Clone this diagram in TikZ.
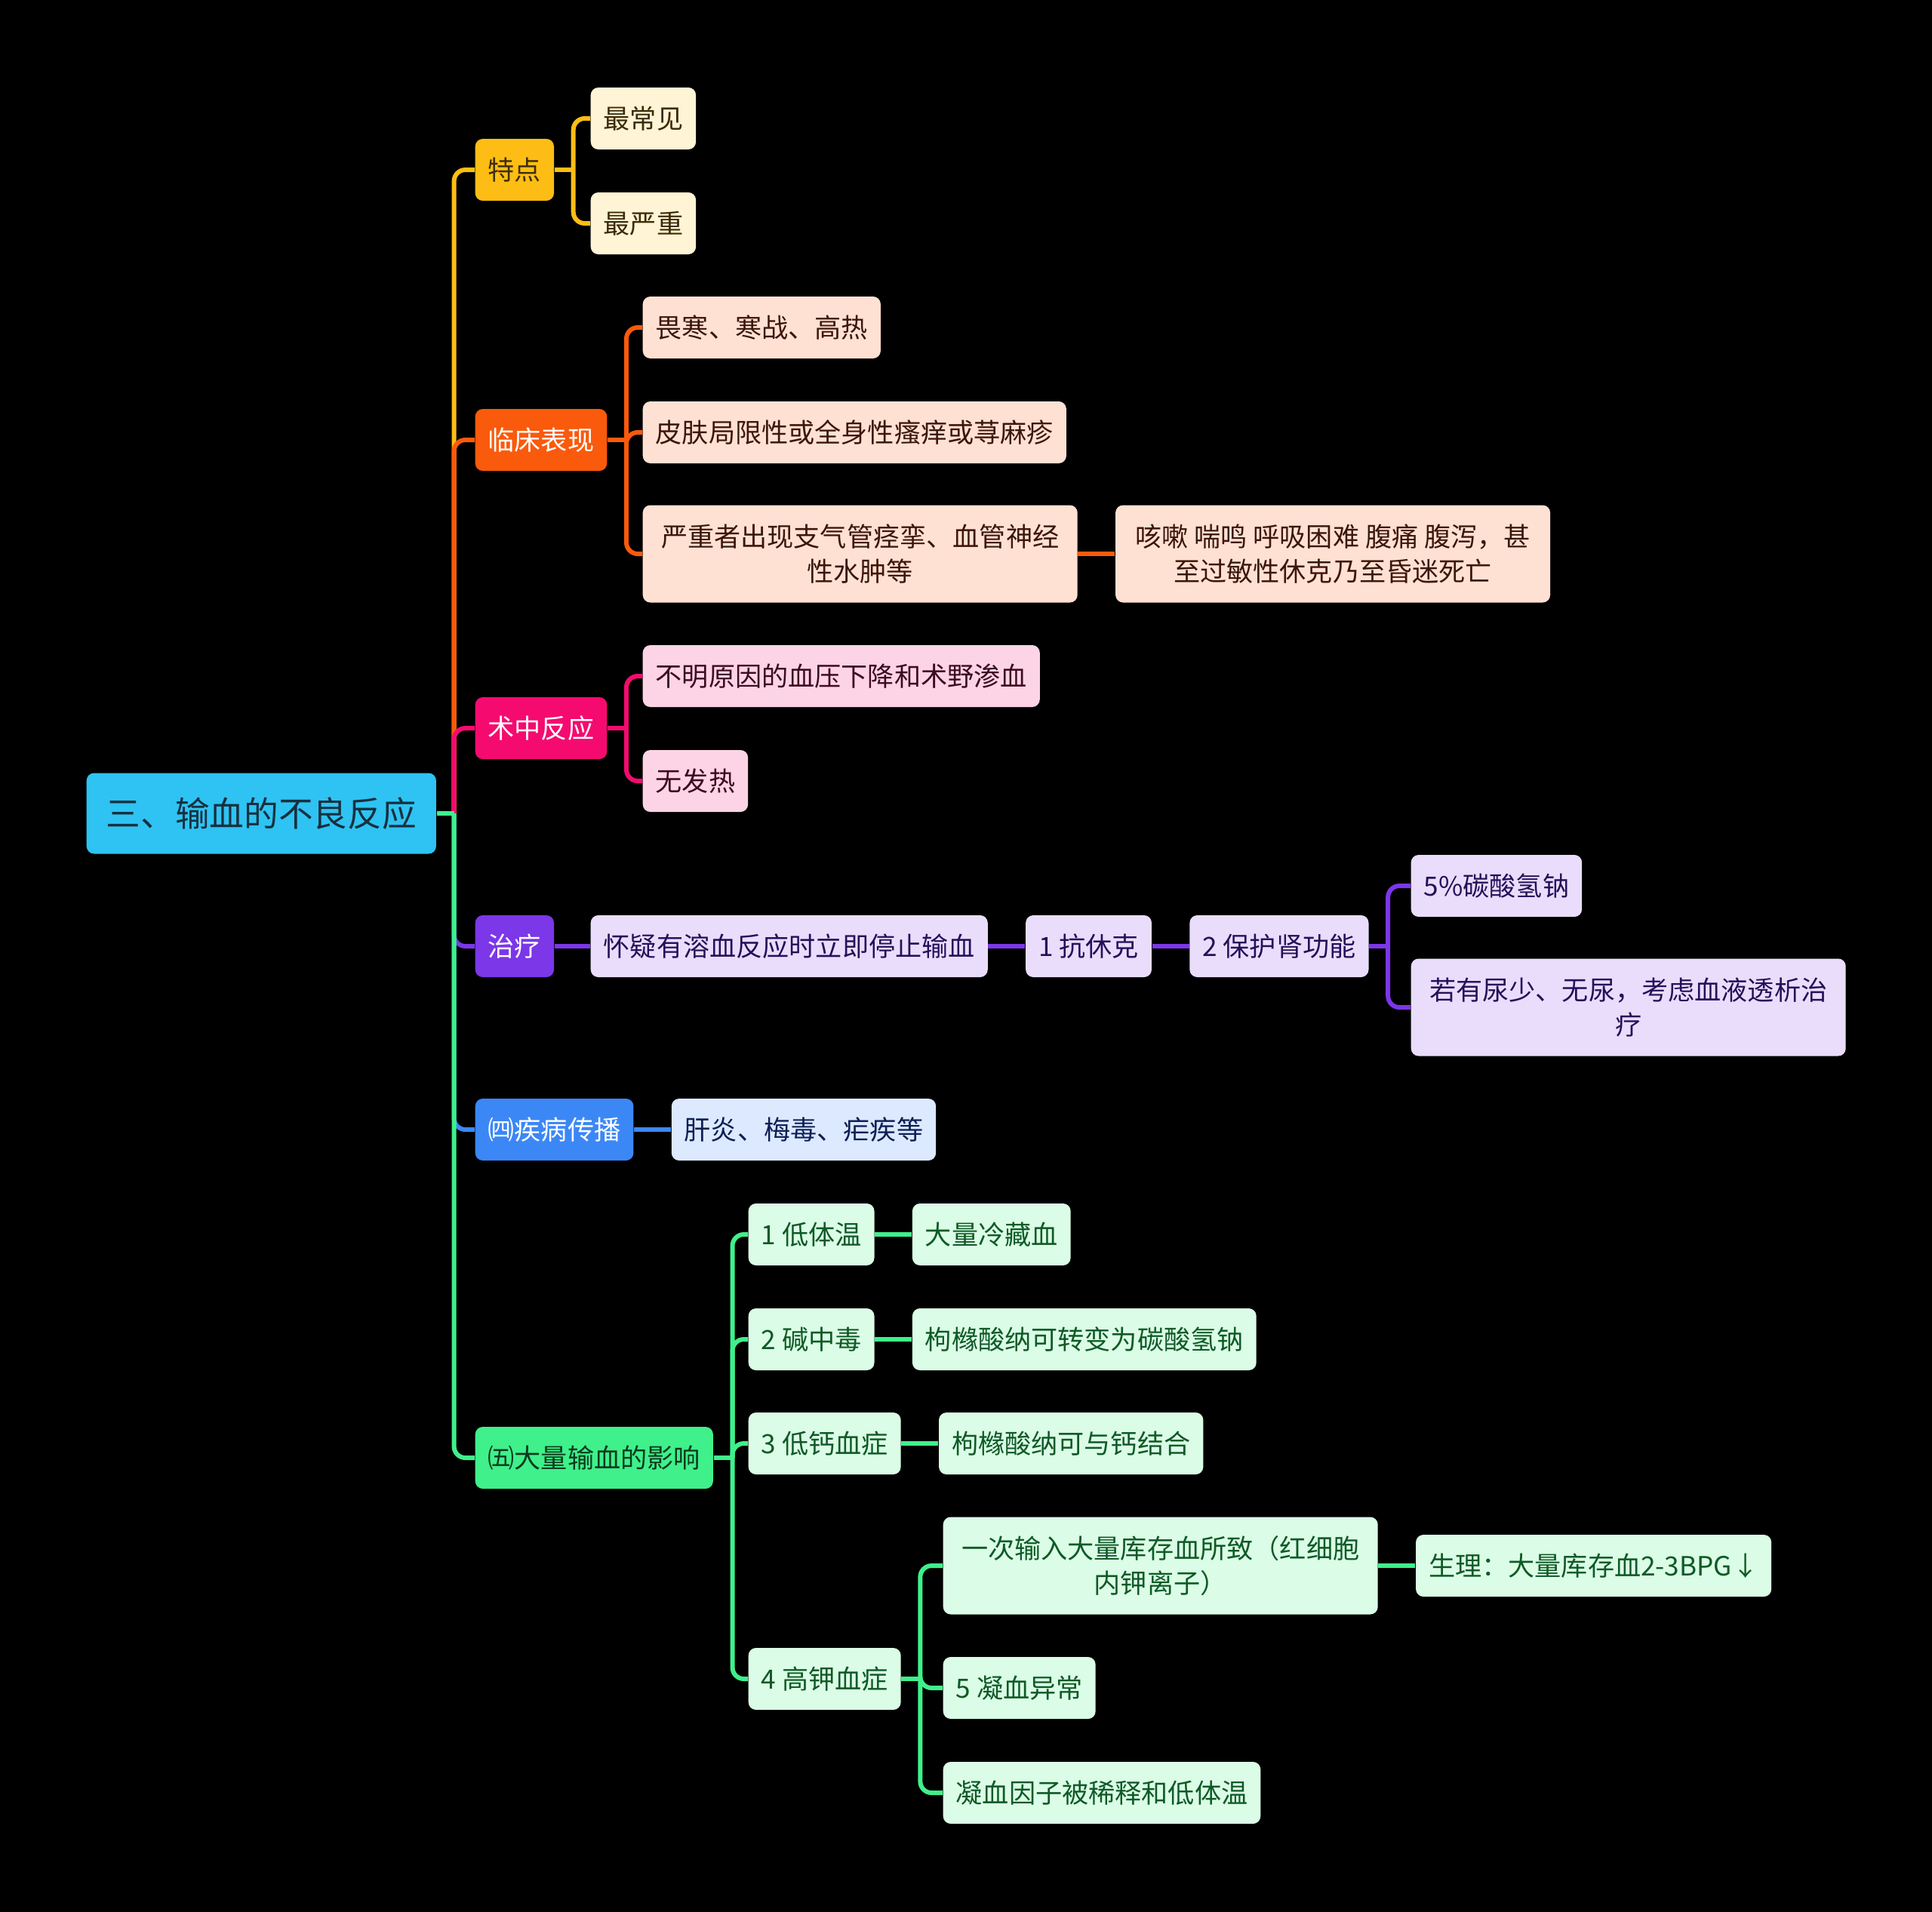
\documentclass[tikz,border=0pt]{standalone}
\usepackage{fontspec}
\setmainfont{Noto Sans CJK SC}
\usetikzlibrary{positioning}
\definecolor{rootfill}{HTML}{2EC3F2}
\definecolor{roottext}{HTML}{17303F}
\definecolor{ylwfill}{HTML}{FDBD14}
\definecolor{ylwtext}{HTML}{3D2F08}
\definecolor{ylwsub}{HTML}{FFF4D5}
\definecolor{ylwsubtext}{HTML}{3B2B08}
\definecolor{orgfill}{HTML}{FA5A0B}
\definecolor{orgsub}{HTML}{FFE1D3}
\definecolor{orgsubtext}{HTML}{3D160A}
\definecolor{pnkfill}{HTML}{F50B6F}
\definecolor{pnksub}{HTML}{FDD4E6}
\definecolor{pnksubtext}{HTML}{3D0A20}
\definecolor{prpfill}{HTML}{7B37E8}
\definecolor{prpsub}{HTML}{E9DDFB}
\definecolor{prpsubtext}{HTML}{25105A}
\definecolor{blufill}{HTML}{3C87F6}
\definecolor{blusub}{HTML}{DCE9FF}
\definecolor{blusubtext}{HTML}{0D1F55}
\definecolor{grnfill}{HTML}{3FF08B}
\definecolor{grntext}{HTML}{0B3A1C}
\definecolor{grnsub}{HTML}{DBFCE6}
\definecolor{grnsubtext}{HTML}{0E5A26}
\tikzset{
  box/.style={rectangle,rounded corners=0.1cm,anchor=west,minimum height=0.82cm,inner xsep=0.17cm,inner ysep=0.1cm,align=center,font=\fontsize{10}{13}\selectfont},
  rootblk/.style={box,fill=rootfill,text=roottext,minimum height=1.07cm,inner xsep=0.26cm,font=\fontsize{13}{16}\selectfont},
  ylwblk/.style={box,fill=ylwfill,text=ylwtext},
  ylwsubblk/.style={box,fill=ylwsub,text=ylwsubtext},
  orgblk/.style={box,fill=orgfill,text=white},
  orgsubblk/.style={box,fill=orgsub,text=orgsubtext},
  pnkblk/.style={box,fill=pnkfill,text=white},
  pnksubblk/.style={box,fill=pnksub,text=pnksubtext},
  prpblk/.style={box,fill=prpfill,text=white},
  prpsubblk/.style={box,fill=prpsub,text=prpsubtext},
  blublk/.style={box,fill=blufill,text=white},
  blusubblk/.style={box,fill=blusub,text=blusubtext},
  grnblk/.style={box,fill=grnfill,text=grntext},
  grnsubblk/.style={box,fill=grnsub,text=grnsubtext},
  twoline/.style={minimum height=1.29cm,minimum width=5.76cm},
  lnk/.style={line width=1.7pt,rounded corners=0.15cm}
}
\begin{document}
\begin{tikzpicture}
  \useasboundingbox (0,0) rectangle (25.6,-25.33);
  \fill[black] (-0.2,0.2) rectangle (25.8,-25.53);

  % root and main branches
  \node[rootblk] (root) at (1.14,-10.78) {三、输血的不良反应};
  \node[ylwblk] (td) at (6.29,-2.25) {特点};
  \node[orgblk] (lc) at (6.29,-5.83) {临床表现};
  \node[pnkblk] (sz) at (6.29,-9.65) {术中反应};
  \node[prpblk] (zl) at (6.29,-12.54) {治疗};
  \node[blublk] (jb) at (6.29,-14.97) {㈣疾病传播};
  \node[grnblk] (dl) at (6.29,-19.32) {㈤大量输血的影响};

  % 特点
  \node[ylwsubblk] (cj) at (7.82,-1.57) {最常见};
  \node[ylwsubblk] (yz) at (7.82,-2.96) {最严重};

  % 临床表现
  \node[orgsubblk] (wh) at (8.51,-4.34) {畏寒、寒战、高热};
  \node[orgsubblk] (pf) at (8.51,-5.73) {皮肤局限性或全身性瘙痒或荨麻疹};
  \node[orgsubblk,twoline] (yzz) at (8.51,-7.34) {严重者出现支气管痉挛、血管神经\\性水肿等};
  \node[orgsubblk,twoline,right=0.49cm of yzz] (ks) {咳嗽 喘鸣 呼吸困难 腹痛 腹泻，甚\\至过敏性休克乃至昏迷死亡};

  % 术中反应
  \node[pnksubblk] (bm) at (8.51,-8.96) {不明原因的血压下降和术野渗血};
  \node[pnksubblk] (wf) at (8.51,-10.35) {无发热};

  % 治疗
  \node[prpsubblk] (hy) at (7.82,-12.54) {怀疑有溶血反应时立即停止输血};
  \node[prpsubblk,right=0.49cm of hy] (kx) {1 抗休克};
  \node[prpsubblk,right=0.49cm of kx] (bh) {2 保护肾功能};
  \node[prpsubblk] (tq) at (18.69,-11.74) {5\%碳酸氢钠};
  \node[prpsubblk,twoline] (ns) at (18.69,-13.35) {若有尿少、无尿，考虑血液透析治\\疗};

  % 疾病传播
  \node[blusubblk,right=0.49cm of jb] (gy) {肝炎、梅毒、疟疾等};

  % 大量输血的影响
  \node[grnsubblk] (dt) at (9.91,-16.36) {1 低体温};
  \node[grnsubblk,right=0.49cm of dt] (lcx) {大量冷藏血};
  \node[grnsubblk] (jz) at (9.91,-17.75) {2 碱中毒};
  \node[grnsubblk,right=0.49cm of jz] (zb) {枸橼酸纳可转变为碳酸氢钠};
  \node[grnsubblk] (dg) at (9.91,-19.13) {3 低钙血症};
  \node[grnsubblk,right=0.49cm of dg] (jh) {枸橼酸纳可与钙结合};
  \node[grnsubblk] (gj) at (9.91,-22.25) {4 高钾血症};
  \node[grnsubblk,twoline] (yc) at (12.49,-20.75) {一次输入大量库存血所致（红细胞\\内钾离子）};
  \node[grnsubblk,right=0.49cm of yc] (sl) {生理：大量库存血2-3BPG↓};
  \node[grnsubblk] (nx) at (12.49,-22.37) {5 凝血异常};
  \node[grnsubblk] (ys) at (12.49,-23.76) {凝血因子被稀释和低体温};

  % junctions
  \coordinate[right=0.23cm of root] (rootj);
  \coordinate[right=0.25cm of td] (tdj);
  \coordinate[right=0.25cm of lc] (lcj);
  \coordinate[right=0.25cm of sz] (szj);
  \coordinate[right=0.25cm of bh] (bhj);
  \coordinate[right=0.25cm of dl] (dlj);
  \coordinate[right=0.25cm of gj] (gjj);

  % connectors
  \foreach \c/\col in {td/ylwfill, lc/orgfill, sz/pnkfill, zl/prpfill, jb/blufill, dl/grnfill}
    \draw[lnk,\col] (\c.west) -| (rootj);
  \draw[lnk,grnfill] (root.east) -- (rootj);

  \draw[lnk,ylwfill] (td.east) -- (tdj);
  \foreach \c in {cj,yz}
    \draw[lnk,ylwfill] (\c.west) -| (tdj);

  \draw[lnk,orgfill] (lc.east) -- (lcj);
  \foreach \c in {wh,pf,yzz}
    \draw[lnk,orgfill] (\c.west) -| (lcj);
  \draw[lnk,orgfill] (yzz) -- (ks);

  \draw[lnk,pnkfill] (sz.east) -- (szj);
  \foreach \c in {bm,wf}
    \draw[lnk,pnkfill] (\c.west) -| (szj);

  \foreach \a/\b in {zl/hy, hy/kx, kx/bh}
    \draw[lnk,prpfill] (\a) -- (\b);
  \draw[lnk,prpfill] (bh.east) -- (bhj);
  \foreach \c in {tq,ns}
    \draw[lnk,prpfill] (\c.west) -| (bhj);

  \draw[lnk,blufill] (jb) -- (gy);

  \draw[lnk,grnfill] (dl.east) -- (dlj);
  \foreach \c in {dt,jz,dg,gj}
    \draw[lnk,grnfill] (\c.west) -| (dlj);
  \foreach \a/\b in {dt/lcx, jz/zb, dg/jh, yc/sl}
    \draw[lnk,grnfill] (\a) -- (\b);
  \draw[lnk,grnfill] (gj.east) -- (gjj);
  \foreach \c in {yc,nx,ys}
    \draw[lnk,grnfill] (\c.west) -| (gjj);
\end{tikzpicture}
\end{document}
